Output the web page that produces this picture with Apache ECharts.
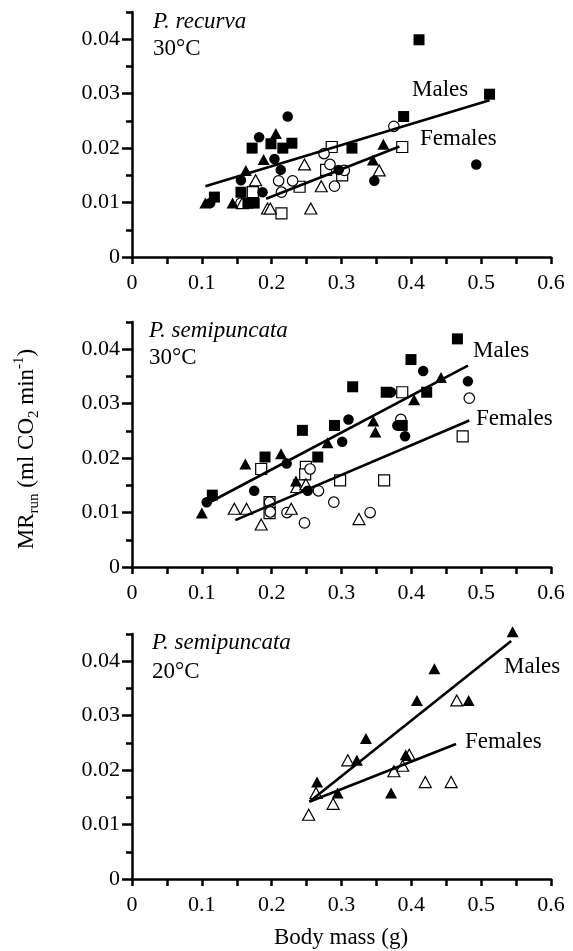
<!DOCTYPE html>
<html><head><meta charset="utf-8">
<script src="https://cdn.jsdelivr.net/npm/echarts@6/dist/echarts.min.js"></script>
<style>html,body{margin:0;padding:0;background:#fff}#c{width:573px;height:951px}</style>
</head><body><div id="c"></div>
<script>
// ---------- Panel 1: P. recurva 30°C ----------
const p1SquareFilled = [[0.411,0.0399],[0.512,0.0299],[0.389,0.0258],[0.315,0.0200],[0.172,0.0200],[0.199,0.0208],[0.216,0.0200],[0.229,0.0209],[0.118,0.0110],[0.156,0.0119],[0.175,0.0099],[0.166,0.0099]];
const p1CircleFilled = [[0.223,0.0258],[0.182,0.0220],[0.204,0.0180],[0.213,0.0160],[0.156,0.0141],[0.187,0.0119],[0.112,0.0099],[0.296,0.0160],[0.347,0.0140],[0.493,0.0170]];
const p1TriangleFilled = [[0.206,0.0227],[0.1885,0.0179],[0.163,0.0159],[0.105,0.0099],[0.144,0.0099],[0.360,0.0207],[0.345,0.0178]];
const p1SquareOpen = [[0.286,0.0202],[0.387,0.0202],[0.278,0.0160],[0.301,0.0150],[0.240,0.0129],[0.173,0.0119],[0.214,0.0080]];
const p1CircleOpen = [[0.375,0.0240],[0.275,0.0190],[0.2835,0.0170],[0.304,0.0159],[0.290,0.0130],[0.210,0.0140],[0.230,0.0140],[0.214,0.0119],[0.156,0.0099]];
const p1TriangleOpen = [[0.247,0.0170],[0.354,0.0159],[0.177,0.0141],[0.271,0.0130],[0.256,0.0089],[0.194,0.0089],[0.198,0.0089],[0.158,0.0099]];
const p1MaleLine = [[0.105,0.0130],[0.512,0.0288]];
const p1FemaleLine = [[0.192,0.0107],[0.383,0.0203]];

// ---------- Panel 2: P. semipuncata 30°C ----------
const p2SquareFilled = [[0.466,0.0419],[0.3995,0.0381],[0.316,0.0331],[0.364,0.0321],[0.422,0.0321],[0.290,0.0260],[0.244,0.0251],[0.1905,0.0202],[0.266,0.0202],[0.115,0.0132],[0.387,0.0260]];
const p2CircleFilled = [[0.417,0.0360],[0.481,0.0341],[0.371,0.0321],[0.310,0.0271],[0.301,0.0230],[0.380,0.0260],[0.391,0.0240],[0.2215,0.0190],[0.175,0.0140],[0.2516,0.0140],[0.107,0.0119]];
const p2TriangleFilled = [[0.4425,0.0348],[0.404,0.0307],[0.3456,0.0268],[0.3485,0.0248],[0.280,0.0228],[0.2134,0.0208],[0.1623,0.0189],[0.2348,0.0158],[0.100,0.0099]];
const p2SquareOpen = [[0.387,0.0321],[0.4735,0.0240],[0.298,0.0159],[0.361,0.0159],[0.185,0.0180],[0.249,0.0184],[0.248,0.0170],[0.197,0.0119],[0.197,0.0099],[0.239,0.0150]];
const p2CircleOpen = [[0.483,0.0310],[0.385,0.0271],[0.255,0.0180],[0.267,0.0140],[0.289,0.0119],[0.197,0.0119],[0.198,0.0101],[0.222,0.0100],[0.247,0.0081],[0.341,0.0100]];
const p2TriangleOpen = [[0.1465,0.0107],[0.164,0.0107],[0.185,0.0078],[0.228,0.0107],[0.236,0.0147],[0.249,0.0152],[0.325,0.0088]];
const p2MaleLine = [[0.110,0.0118],[0.481,0.0370]];
const p2FemaleLine = [[0.148,0.0086],[0.483,0.0269]];

// ---------- Panel 3: P. semipuncata 20°C ----------
const p3TriangleFilled = [[0.545,0.0454],[0.433,0.0386],[0.408,0.0328],[0.482,0.0328],[0.335,0.0258],[0.322,0.0218],[0.392,0.0228],[0.265,0.0178],[0.2945,0.0158],[0.371,0.0158]];
const p3TriangleOpen = [[0.465,0.0328],[0.309,0.0218],[0.397,0.0228],[0.3876,0.0208],[0.375,0.0198],[0.420,0.0178],[0.457,0.0178],[0.2635,0.0158],[0.288,0.0138],[0.253,0.0118]];
const p3MaleLine = [[0.254,0.0142],[0.543,0.0437]];
const p3FemaleLine = [[0.254,0.0142],[0.464,0.0248]];

// ---------- Axis ticks / labels ----------
const xMin = 0, xMax = 0.6, xStep = 0.05;
const yMin = 0, yMax = 0.045;
const yMajorTicks = [0, 0.01, 0.02, 0.03, 0.04];
const yMinorTicks = [0.005, 0.015, 0.025, 0.035, 0.045];

const panelTitles = [['P. recurva','30°C'],['P. semipuncata','30°C'],['P. semipuncata','20°C']];
const sexLabels = ['Males','Females'];
const xAxisTitle = 'Body mass (g)';

// ---------- Chart ----------
const FONT = '"Liberation Serif","Times New Roman",serif';
const BLACK = '#000';
const chart = echarts.init(document.getElementById('c'), null, {renderer:'canvas'});

const gridTops = [12, 322, 634];
const grids = gridTops.map(t => ({left:132, top:t, width:419, height:245}));

const xAxes = [0,1,2].map(i => ({
  gridIndex:i, type:'value', min:xMin, max:xMax, interval:xStep,
  axisLine:{show:true, onZero:false, lineStyle:{color:BLACK, width:2.5}},
  axisTick:{show:true, length:7, lineStyle:{color:BLACK, width:2.5}},
  splitLine:{show:false},
  axisLabel:{fontFamily:FONT, fontSize:22, color:BLACK, margin:15,
    formatter: v => { const k = Math.round(v/xStep); if (k%2) return ''; return k===0?'0':(k*xStep).toFixed(1); }}
}));

const yMain = [0,1,2].map(i => ({
  gridIndex:i, type:'value', min:yMin, max:yMax,
  axisLine:{show:true, onZero:false, lineStyle:{color:BLACK, width:2.5}},
  axisTick:{show:true, length:10, customValues:yMajorTicks, lineStyle:{color:BLACK, width:2.5}},
  splitLine:{show:false},
  axisLabel:{fontFamily:FONT, fontSize:22, color:BLACK, margin:12, customValues:yMajorTicks,
    formatter: v => v===0 ? '0' : v.toFixed(2)}
}));
const yMinor = [0,1,2].map(i => ({
  gridIndex:i, type:'value', min:yMin, max:yMax, position:'left',
  axisLine:{show:false},
  axisTick:{show:true, length:6, customValues:yMinorTicks, lineStyle:{color:BLACK, width:2.5}},
  splitLine:{show:false},
  axisLabel:{show:false}
}));

function scat(data, idx, symbol, filled, size){
  return {type:'scatter', xAxisIndex:idx, yAxisIndex:idx, data, symbol, symbolSize:size, clip:false, silent:true,
    z: filled ? 3 : 2,
    itemStyle: filled ? {color:BLACK, opacity:1} : {color:'#fff', borderColor:BLACK, borderWidth:1.2, opacity:1}};
}
function fit(data, idx){
  return {type:'line', xAxisIndex:idx, yAxisIndex:idx, data, symbol:'none', silent:true, z:5,
    lineStyle:{color:BLACK, width:2.6, opacity:1}};
}
const SQ=11, CI=10.5, TR=[12,11];
const series = [
  scat(p1SquareOpen,0,'rect',false,SQ), scat(p1CircleOpen,0,'circle',false,CI), scat(p1TriangleOpen,0,'triangle',false,TR),
  scat(p1SquareFilled,0,'rect',true,SQ), scat(p1CircleFilled,0,'circle',true,CI), scat(p1TriangleFilled,0,'triangle',true,TR),
  fit(p1MaleLine,0), fit(p1FemaleLine,0),
  scat(p2SquareOpen,1,'rect',false,SQ), scat(p2CircleOpen,1,'circle',false,CI), scat(p2TriangleOpen,1,'triangle',false,TR),
  scat(p2SquareFilled,1,'rect',true,SQ), scat(p2CircleFilled,1,'circle',true,CI), scat(p2TriangleFilled,1,'triangle',true,TR),
  fit(p2MaleLine,1), fit(p2FemaleLine,1),
  scat(p3TriangleOpen,2,'triangle',false,TR), scat(p3TriangleFilled,2,'triangle',true,TR),
  fit(p3MaleLine,2), fit(p3FemaleLine,2)
];

function txt(text, x, y, opts){
  return Object.assign({type:'text', x, y, silent:true, z:10,
    style:Object.assign({text, fill:BLACK, fontFamily:FONT, fontSize:23, align:'left', verticalAlign:'middle'}, opts||{})});
}
const titlePos = [[153,22,49],[149,331,358],[152,643,672]];
const sexPos = [[[412,90],[420,139]],[[473,351],[476,419]],[[504,667],[465,742]]];
const graphics = [];
titlePos.forEach((p,i) => {
  graphics.push(txt(panelTitles[i][0], p[0], p[1], {fontStyle:'italic'}));
  graphics.push(txt(panelTitles[i][1], p[0], p[2]));
  graphics.push(txt(sexLabels[0], sexPos[i][0][0], sexPos[i][0][1]));
  graphics.push(txt(sexLabels[1], sexPos[i][1][0], sexPos[i][1][1]));
});
graphics.push(txt(xAxisTitle, 341, 938, {align:'center'}));
graphics.push({type:'text', x:27, y:449, rotation:Math.PI/2, silent:true, z:10,
  style:{text:'{a|MR}{s|run}{a| (ml CO}{s|2}{a| min}{p|-1}{a|)}', fill:BLACK, align:'center', verticalAlign:'middle',
    rich:{
      a:{fontFamily:FONT, fontSize:23, fill:BLACK, lineHeight:30},
      s:{fontFamily:FONT, fontSize:15, fill:BLACK, verticalAlign:'bottom', lineHeight:22},
      p:{fontFamily:FONT, fontSize:15, fill:BLACK, verticalAlign:'top', lineHeight:22}
    }}});

chart.setOption({
  animation:false,
  backgroundColor:'#fff',
  grid:grids,
  xAxis:xAxes,
  yAxis:yMain.concat(yMinor),
  series,
  graphic:graphics
});
</script></body></html>
